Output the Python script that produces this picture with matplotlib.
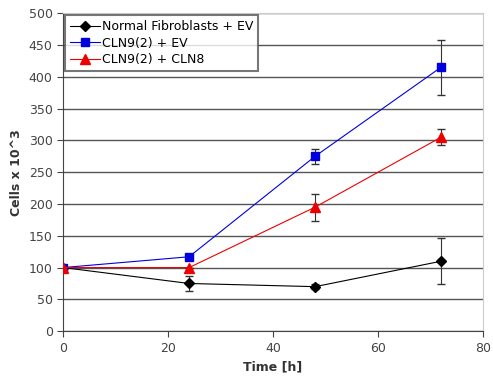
import matplotlib
matplotlib.use('Agg')
import matplotlib.pyplot as plt

time_h = [0, 24, 48, 72]
normal_ev = [100, 75, 70, 110]
normal_ev_err = [0, 12, 4, 36]
cln9_ev = [100, 117, 275, 415]
cln9_ev_err = [0, 0, 12, 43]
cln9_cln8 = [100, 100, 195, 305]
cln9_cln8_err = [0, 0, 21, 13]

plt.rcParams['font.family'] = 'DejaVu Sans'
fig = plt.figure(figsize=(4.93, 3.86), dpi=100)
ax = fig.add_axes([0.128, 0.142, 0.852, 0.824])

e1 = ax.errorbar(time_h, normal_ev, yerr=normal_ev_err, color='black', marker='D', ms=5,
            lw=0.8, ecolor='#333333', elinewidth=0.8, capsize=3, label='Normal Fibroblasts + EV', zorder=3)
e2 = ax.errorbar(time_h, cln9_ev, yerr=cln9_ev_err, color='#0000dd', marker='s', ms=6,
            lw=0.8, ecolor='#333333', elinewidth=0.8, capsize=3, label='CLN9(2) + EV', zorder=3)
e3 = ax.errorbar(time_h, cln9_cln8, yerr=cln9_cln8_err, color='#ee0000', marker='^', ms=7,
            lw=0.8, ecolor='#333333', elinewidth=0.8, capsize=3, label='CLN9(2) + CLN8', zorder=3)

ax.set_xlim(0, 80)
ax.set_ylim(0, 500)
ax.set_xticks(range(0, 81, 20))
ax.set_yticks(range(0, 501, 50))
ax.yaxis.grid(True, color='#555555', lw=1.0)
ax.set_axisbelow(True)
ax.spines['top'].set_color('#cccccc')
ax.spines['right'].set_color('#cccccc')
ax.spines['left'].set_color('#444444')
ax.spines['bottom'].set_color('#444444')
ax.tick_params(labelsize=9, colors='#444444', direction='out', length=4)
ax.set_xlabel('Time [h]', fontsize=9, fontweight='bold', color='#333333')
ax.set_ylabel('Cells x 10^3', fontsize=9, fontweight='bold', color='#333333')

handles = [e1[0], e2[0], e3[0]]
labels = ['Normal Fibroblasts + EV', 'CLN9(2) + EV', 'CLN9(2) + CLN8']
leg = ax.legend(handles, labels, loc='upper left', fontsize=9, frameon=True, fancybox=False,
                shadow=False, borderaxespad=0.15, borderpad=0.4, handlelength=2.4,
                handletextpad=0.15, labelspacing=0.3)
leg.get_frame().set_edgecolor('#555555')
leg.get_frame().set_linewidth(1.5)

fig.savefig('out.png', dpi=100)
